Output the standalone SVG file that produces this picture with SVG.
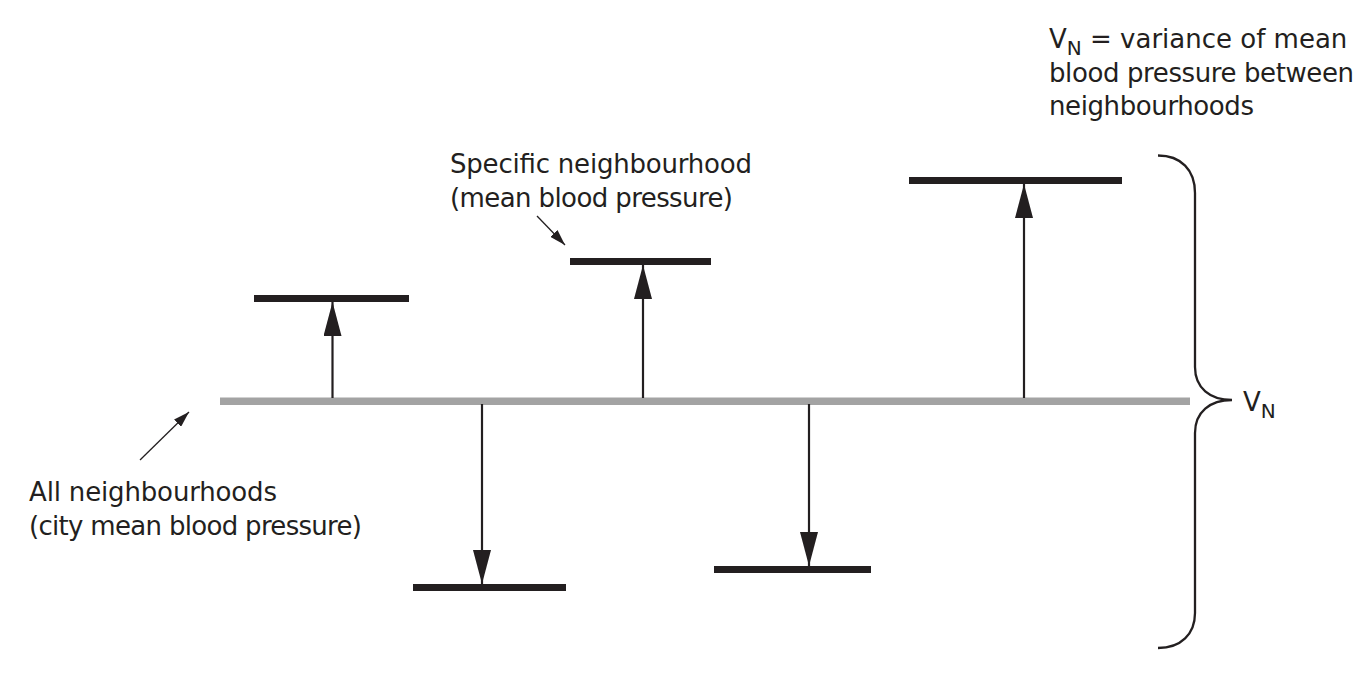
<svg xmlns="http://www.w3.org/2000/svg" width="1359" height="685" viewBox="0 0 1359 685">
  <style>
    .lbl { font-family: "DejaVu Sans", "Liberation Sans", sans-serif; font-size: 26px; fill: #231f20; }
    .bar { fill: #231f20; }
    .shaft { stroke: #231f20; stroke-width: 2.2; fill: none; }
    .ptr { stroke: #231f20; stroke-width: 1.3; fill: none; }
    .brace { stroke: #231f20; stroke-width: 2.3; fill: none; }
  </style>
  <defs>
    <marker id="head" viewBox="0 0 34 18" refX="34" refY="9" markerWidth="34" markerHeight="18" markerUnits="userSpaceOnUse" orient="auto">
      <path d="M0,0 L34,9 L0,18 Z" fill="#231f20"/>
    </marker>
    <marker id="phead" viewBox="0 0 16 10" refX="16" refY="5" markerWidth="16" markerHeight="10" markerUnits="userSpaceOnUse" orient="auto">
      <path d="M0,0 L16,5 L0,10 Z" fill="#231f20"/>
    </marker>
  </defs>

  <rect width="1359" height="685" fill="#ffffff"/>

  <g id="city-mean">
    <rect x="220" y="397.5" width="970" height="7.5" fill="#a3a3a3"/>
  </g>

  <g id="neighbourhood-1"><rect class="bar" x="254" y="295" width="155" height="7"/></g>
  <g id="neighbourhood-2"><rect class="bar" x="570" y="258" width="141" height="7"/></g>
  <g id="neighbourhood-3"><rect class="bar" x="909" y="177" width="213" height="7"/></g>
  <g id="neighbourhood-4"><rect class="bar" x="413" y="584" width="153" height="7"/></g>
  <g id="neighbourhood-5"><rect class="bar" x="714" y="566" width="157" height="7"/></g>

  <g id="connectors">
    <line class="shaft" x1="332.5" y1="398" x2="332.5" y2="302" marker-end="url(#head)"/>
    <line class="shaft" x1="643" y1="398" x2="643" y2="265" marker-end="url(#head)"/>
    <line class="shaft" x1="1024" y1="398" x2="1024" y2="184" marker-end="url(#head)"/>
    <line class="shaft" x1="482" y1="404" x2="482" y2="584" marker-end="url(#head)"/>
    <line class="shaft" x1="809" y1="404" x2="809" y2="566" marker-end="url(#head)"/>
    <line class="ptr" x1="537" y1="216" x2="565" y2="245" marker-end="url(#phead)"/>
    <line class="ptr" x1="140" y1="460" x2="189" y2="412" marker-end="url(#phead)"/>
  </g>

  <g id="brace">
    <path class="brace" d="M1158,155.5 C1181,155.5 1195,170 1195,193 L1195,367 C1195,388 1210,400 1232,400 C1210,400 1195,412 1195,433 L1195,613 C1195,634 1181,648 1158,648"/>
  </g>

  <g id="label-specific">
    <text class="lbl" x="450" y="173" textLength="302">Specific neighbourhood</text>
    <text class="lbl" x="450" y="207" textLength="283">(mean blood pressure)</text>
  </g>

  <g id="label-all">
    <text class="lbl" x="29" y="501" textLength="248">All neighbourhoods</text>
    <text class="lbl" x="29" y="535" textLength="333">(city mean blood pressure)</text>
  </g>

  <g id="label-variance">
    <text class="lbl" x="1049" y="48">V<tspan font-size="20" dy="7">N</tspan><tspan dy="-7"> = variance of mean</tspan></text>
    <text class="lbl" x="1049" y="82" textLength="305">blood pressure between</text>
    <text class="lbl" x="1049" y="115" textLength="205">neighbourhoods</text>
  </g>

  <g id="label-vn">
    <text class="lbl" x="1243" y="411">V<tspan font-size="20" dy="7">N</tspan></text>
  </g>
</svg>
